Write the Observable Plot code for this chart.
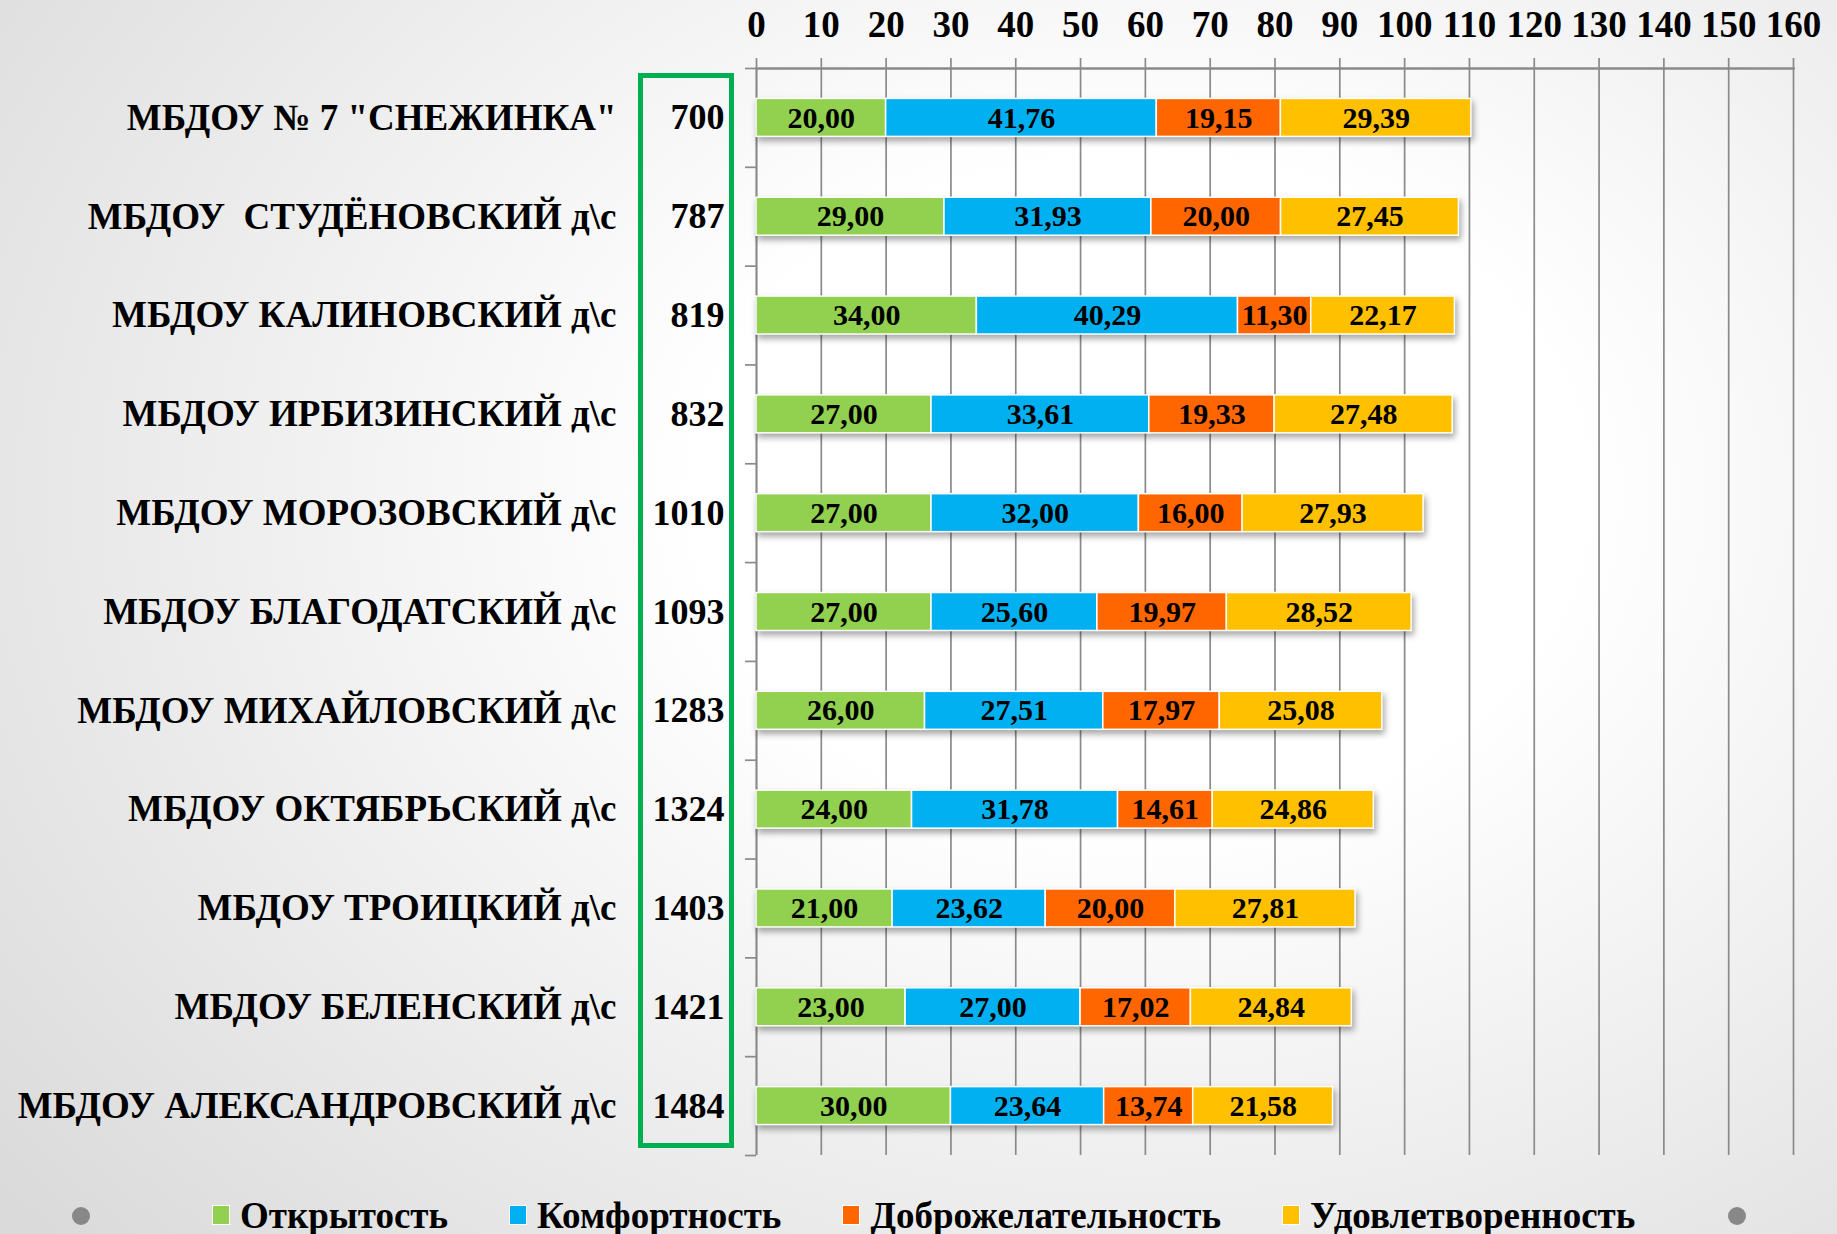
<!DOCTYPE html>
<html><head><meta charset="utf-8">
<script src="https://cdn.jsdelivr.net/npm/d3@7"></script>
<script src="https://cdn.jsdelivr.net/npm/@observablehq/plot@0.6"></script>
<style>
html,body{margin:0;padding:0;}
body{width:1837px;height:1234px;overflow:hidden;position:relative;
 background:radial-gradient(ellipse 80% 90% at 62% 40%, #ffffff 30%, #dadada 100%);
 font-family:"Liberation Serif","Times New Roman",serif;}
#chart{position:absolute;left:0;top:0;}
#chart g[aria-label="bar"]{filter:drop-shadow(2px 4px 3px rgba(0,0,0,0.35));}
#box{position:absolute;left:638px;top:73px;width:86px;height:1065px;border:5px solid #00B050;}
#legend{position:absolute;left:0;top:1193px;width:1837px;height:44px;display:flex;align-items:center;padding-left:212px;box-sizing:border-box;gap:61px;font-weight:bold;font-size:37px;color:#000;}
#legend .item{display:flex;align-items:center;}
#legend .sw{width:16px;height:18px;margin-right:10px;border:1px solid #fff;}
.dot{position:absolute;width:18px;height:18px;border-radius:50%;background:#888;top:1207px;}
</style>
</head><body>
<div id="chart"></div>
<div id="box"></div>
<div id="legend"></div>
<div class="dot" style="left:72px"></div>
<div class="dot" style="left:1728px"></div>
<script>
const schools = [
  'МБДОУ № 7 "СНЕЖИНКА"',
  'МБДОУ  СТУДЁНОВСКИЙ д\\с',
  'МБДОУ КАЛИНОВСКИЙ д\\с',
  'МБДОУ ИРБИЗИНСКИЙ д\\с',
  'МБДОУ МОРОЗОВСКИЙ д\\с',
  'МБДОУ БЛАГОДАТСКИЙ д\\с',
  'МБДОУ МИХАЙЛОВСКИЙ д\\с',
  'МБДОУ ОКТЯБРЬСКИЙ д\\с',
  'МБДОУ ТРОИЦКИЙ д\\с',
  'МБДОУ БЕЛЕНСКИЙ д\\с',
  'МБДОУ АЛЕКСАНДРОВСКИЙ д\\с'
];
const ranks = [700, 787, 819, 832, 1010, 1093, 1283, 1324, 1403, 1421, 1484];
const openness     = [20.00, 29.00, 34.00, 27.00, 27.00, 27.00, 26.00, 24.00, 21.00, 23.00, 30.00];
const comfort      = [41.76, 31.93, 40.29, 33.61, 32.00, 25.60, 27.51, 31.78, 23.62, 27.00, 23.64];
const kindness     = [19.15, 20.00, 11.30, 19.33, 16.00, 19.97, 17.97, 14.61, 20.00, 17.02, 13.74];
const satisfaction = [29.39, 27.45, 22.17, 27.48, 27.93, 28.52, 25.08, 24.86, 27.81, 24.84, 21.58];
const seriesNames = ["Открытость", "Комфортность", "Доброжелательность", "Удовлетворенность"];
const seriesColors = ["#92D050", "#00B0F0", "#FF6600", "#FFC000"];
const xTicks = [0, 10, 20, 30, 40, 50, 60, 70, 80, 90, 100, 110, 120, 130, 140, 150, 160];

const seriesValues = [openness, comfort, kindness, satisfaction];
const rows = [];
schools.forEach((s, i) => seriesNames.forEach((k, j) => rows.push({school: s, series: k, value: seriesValues[j][i]})));
const rankOf = new Map(schools.map((s, i) => [s, ranks[i]]));
const fmt = v => d3.format(".2f")(v).replace(".", ",");

const W = 1837, H = 1175, mTop = 68, mBottom = 20, mLeft = 756, mRight = 44;
const step = (H - mTop - mBottom) / schools.length;
const grid = "#8a8a8a";
const font = '"Liberation Serif","Times New Roman",serif';

const chart = Plot.plot({
  width: W, height: H,
  marginTop: mTop, marginBottom: mBottom, marginLeft: mLeft, marginRight: mRight,
  style: {background: "transparent", fontFamily: font, overflow: "visible"},
  x: {domain: [0, 160], axis: null},
  y: {domain: schools, paddingInner: 0.6155, paddingOuter: 0.3077, round: false, axis: null},
  color: {domain: seriesNames, range: seriesColors},
  marks: [
    Plot.gridX({ticks: xTicks, stroke: grid, strokeOpacity: 1, strokeWidth: 1.7}),
    Plot.axisX({anchor: "top", ticks: xTicks, tickSize: 11, tickPadding: 21, label: null,
      stroke: grid, strokeWidth: 1.7, fontSize: 37, fontWeight: "bold", fill: "#000"}),
    Plot.frame({anchor: "top", stroke: grid, strokeWidth: 2.5}),
    Plot.ruleX([0], {stroke: grid, strokeWidth: 1.7}),
    Plot.axisY({anchor: "left", tickSize: 11, tickFormat: () => "", dy: -step / 2, stroke: grid, strokeWidth: 1.7, label: null}),
    Plot.axisY({anchor: "left", ticks: [schools[schools.length - 1]], tickSize: 11, tickFormat: () => "", dy: step / 2, stroke: grid, strokeWidth: 1.7, label: null}),
    Plot.axisY({anchor: "left", tickSize: 0, tickPadding: 140, label: null, fontSize: 37, fontWeight: "bold", fill: "#000"}),
    Plot.axisY({anchor: "left", tickSize: 0, tickPadding: 32, label: null, tickFormat: d => String(rankOf.get(d)), fontSize: 36, fontWeight: "bold", fill: "#000"}),
    Plot.barX(rows, Plot.stackX({x: "value", y: "school", fill: "series", order: seriesNames, stroke: "#fff", strokeWidth: 1.5})),
    Plot.text(rows, Plot.stackX({x: "value", y: "school", z: "series", order: seriesNames, text: d => fmt(d.value),
      fontSize: 30, fontWeight: "bold", fill: "#000"}))
  ]
});
document.getElementById("chart").append(chart);

const legend = document.getElementById("legend");
seriesNames.forEach((n, i) => {
  const it = document.createElement("div");
  it.className = "item";
  it.innerHTML = `<span class="sw" style="background:${seriesColors[i]}"></span><span>${n}</span>`;
  legend.append(it);
});
</script>
</body></html>
